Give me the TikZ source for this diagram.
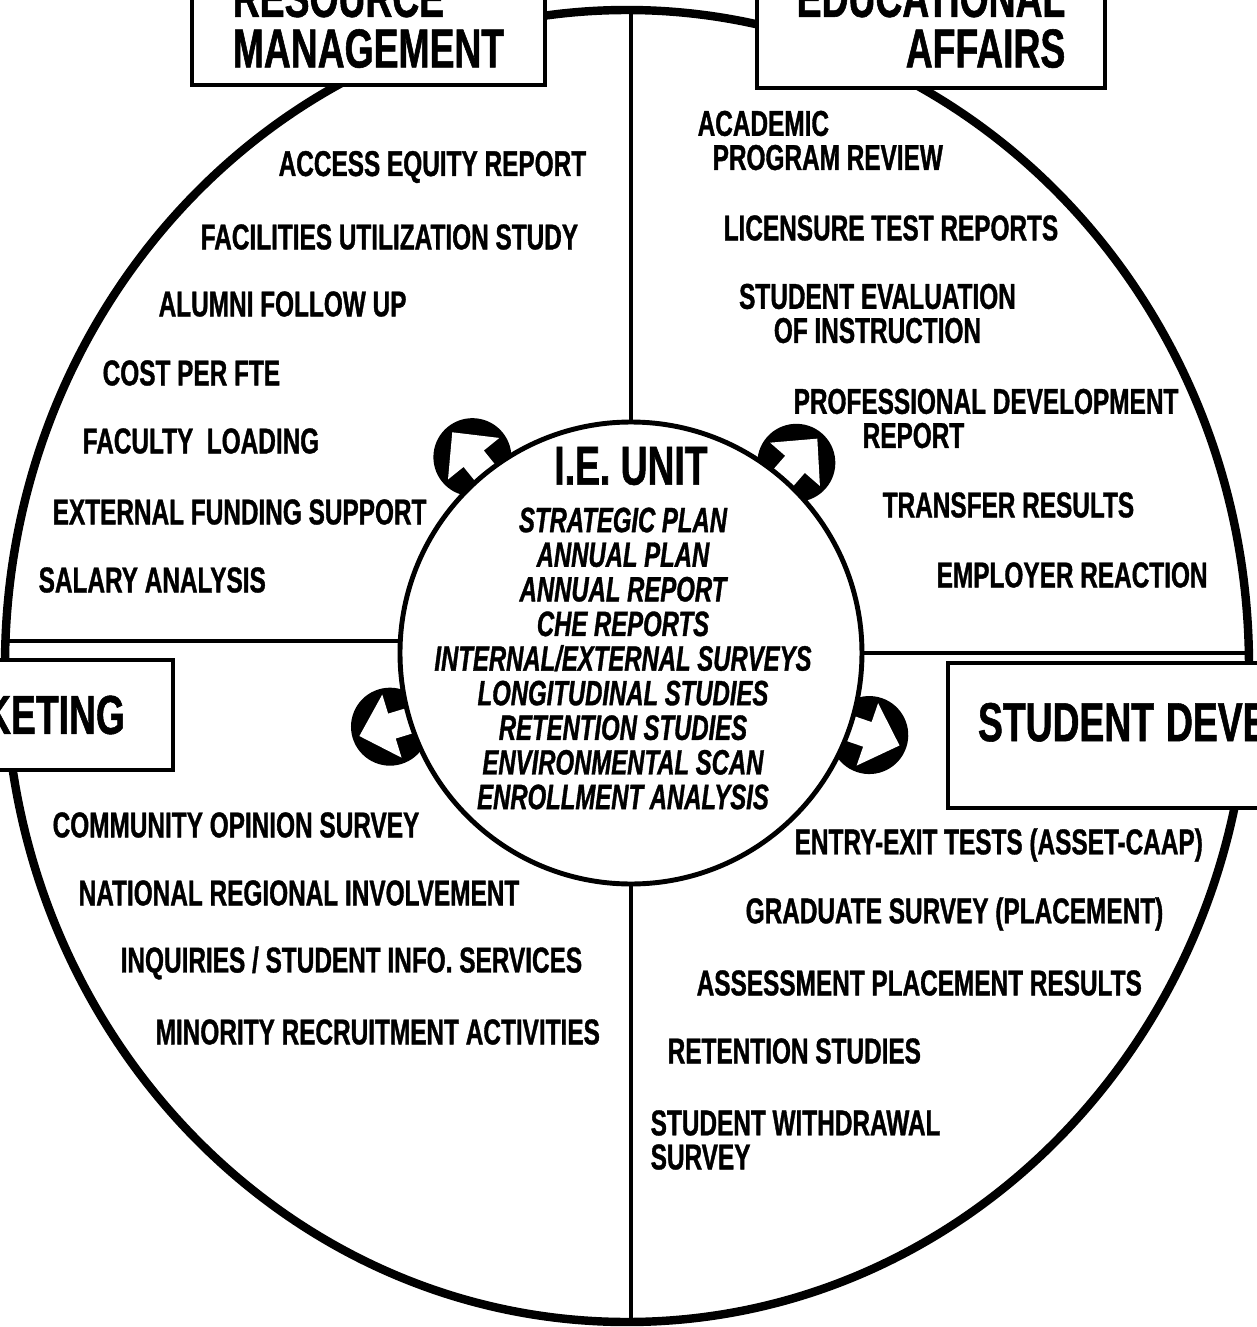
\documentclass[tikz,border=0pt]{standalone}
\usepackage{fontspec}
\newfontfamily\chartfont{Liberation Sans}[FakeStretch=0.68,
  BoldFeatures={FakeBold=1}, BoldItalicFeatures={FakeBold=1}]
\usetikzlibrary{calc, positioning, shapes.geometric, backgrounds}

\newcommand{\headfnt}{\chartfont\bfseries\fontsize{15.6}{14.4}\selectfont}
\newcommand{\itemfnt}{\chartfont\bfseries\fontsize{10.2}{9.7}\selectfont}
\newcommand{\planfnt}{\chartfont\bfseries\itshape\fontsize{10}{9.85}\selectfont}

\begin{document}
\begin{tikzpicture}[
  hbox/.style={
    rectangle, draw, fill=white,
    line width=1.2pt, font=\headfnt,
    outer sep=0pt
  },
  item/.style={
    anchor=west, inner sep=0pt, font=\itemfnt
  },
  divider/.style={
    line width=1.1pt
  }
]

%% ── Marco ────────────────────────────────────────────────────────────────
%% origen = centro de la rueda; 1 cm = 100 px
\useasboundingbox (-6.27,-6.61) rectangle (6.30,6.66);
\clip (-6.27,-6.61) rectangle (6.30,6.66);

%% ── Rueda exterior y unidad central ──────────────────────────────────────
\node[ellipse, draw, line width=2.4pt, minimum width=12.44cm,
      minimum height=13.12cm, inner sep=0pt, outer sep=0pt] (wheel) at (0,0) {};

\node[circle, draw, fill=white, line width=1.4pt, minimum size=4.62cm,
      inner sep=0pt, outer sep=0pt] (unit) at (0.04,0.13) {};

%% ── Divisiones de cuadrantes ─────────────────────────────────────────────
\draw[divider] (unit.north) -- (unit.north |- wheel.north);
\draw[divider] (unit.south) -- (unit.south |- wheel.south);
\draw[divider] (unit.177.5) -- (unit.177.5 -| wheel.west);
\draw[divider] (unit.0.7)   -- (unit.0.7 -| wheel.east);

%% ── Flechas hacia cada cuadrante (bajo el borde de la unidad) ────────────
\begin{pgfonlayer}{background}
  \foreach \ang in {129,49,197,-19}{
    \begin{scope}[shift={(unit.center)}, rotate=\ang]
      \fill (2.52,0) circle (0.39);
      \fill[white] (2.05,-0.13) -- (2.50,-0.13) -- (2.50,-0.33) -- (2.84,0)
        -- (2.50,0.33) -- (2.50,0.13) -- (2.05,0.13) -- cycle;
    \end{scope}
  }
\end{pgfonlayer}

%% ── Texto central ────────────────────────────────────────────────────────
\node[font=\headfnt, inner sep=0pt] (ietitle) at (0.04,2.00) {I.E. UNIT};
\node[font=\planfnt, align=center, inner sep=0pt] (ielist) at (-0.04,0.075)
  {STRATEGIC PLAN\\ANNUAL PLAN\\ANNUAL REPORT\\CHE REPORTS\\
   INTERNAL/EXTERNAL SURVEYS\\LONGITUDINAL STUDIES\\RETENTION STUDIES\\
   ENVIRONMENTAL SCAN\\ENROLLMENT ANALYSIS};

%% ── Cuadrante superior izquierdo ─────────────────────────────────────────
\node[item] (res1) at (-3.49,4.99) {ACCESS EQUITY REPORT};
\node[item] (res2) at (-4.27,4.29) {FACILITIES UTILIZATION STUDY};
\node[item] (res3) at (-4.69,3.62) {ALUMNI FOLLOW UP};
\node[item] (res4) at (-5.25,2.93) {COST PER FTE};
\node[item] (res5) at (-5.45,2.25) {FACULTY~~LOADING};
\node[item] (res6) at (-5.75,1.54) {EXTERNAL FUNDING SUPPORT};
\node[item] (res7) at (-5.89,0.86) {SALARY ANALYSIS};

%% ── Cuadrante superior derecho ───────────────────────────────────────────
\node[item, align=left] (edu1) at (0.70,5.255)
  {ACADEMIC\\\hspace*{0.15cm}PROGRAM REVIEW};
\node[item] (edu2) at (0.96,4.38) {LICENSURE TEST REPORTS};
\node[item, anchor=center, align=center] (edu3) at (2.505,3.525)
  {STUDENT EVALUATION\\OF INSTRUCTION};
\node[item, align=left] (edu4) at (1.66,2.475)
  {PROFESSIONAL DEVELOPMENT\\\hspace*{0.69cm}REPORT};
\node[item] (edu5) at (2.55,1.61) {TRANSFER RESULTS};
\node[item] (edu6) at (3.09,0.91) {EMPLOYER REACTION};

%% ── Cuadrante inferior izquierdo ─────────────────────────────────────────
\node[item] (mkt1) at (-5.75,-1.59) {COMMUNITY OPINION SURVEY};
\node[item] (mkt2) at (-5.49,-2.27) {NATIONAL REGIONAL INVOLVEMENT};
\node[item] (mkt3) at (-5.07,-2.97) {INQUIRIES / STUDENT INFO. SERVICES};
\node[item] (mkt4) at (-4.72,-3.66) {MINORITY RECRUITMENT ACTIVITIES};

%% ── Cuadrante inferior derecho ───────────────────────────────────────────
\node[item] (stu1) at (1.67,-1.79) {ENTRY-EXIT TESTS (ASSET-CAAP)};
\node[item] (stu2) at (1.18,-2.48) {GRADUATE SURVEY (PLACEMENT)};
\node[item] (stu3) at (0.69,-3.17) {ASSESSMENT PLACEMENT RESULTS};
\node[item] (stu4) at (0.40,-3.85) {RETENTION STUDIES};
\node[item, align=left] (stu5) at (0.23,-4.74) {STUDENT WITHDRAWAL\\SURVEY};

%% ── Rótulos de cuadrante (tapan la rueda) ────────────────────────────────
\node[hbox, anchor=south west, minimum width=3.53cm, align=left,
      inner ysep=0.17cm] (res) at (-4.35,5.81) {RESOURCE\\MANAGEMENT};
\node[hbox, anchor=south west, minimum width=3.48cm, align=right,
      inner ysep=0.2cm] (edu) at (1.30,5.78) {EDUCATIONAL\\AFFAIRS};
\node[hbox, anchor=east, minimum height=1.1cm, text width=3cm, align=right,
      inner xsep=0.48cm] (mkt) at (-4.54,-0.49) {MARKETING};
\node[hbox, anchor=north west, minimum height=1.45cm, text width=5.5cm,
      inner xsep=0.3cm, text depth=0.27cm] (stu) at (3.21,0.03)
  {\mbox{STUDENT\hspace{0.12cm}DEVELOPMENT}};

\end{tikzpicture}
\end{document}
